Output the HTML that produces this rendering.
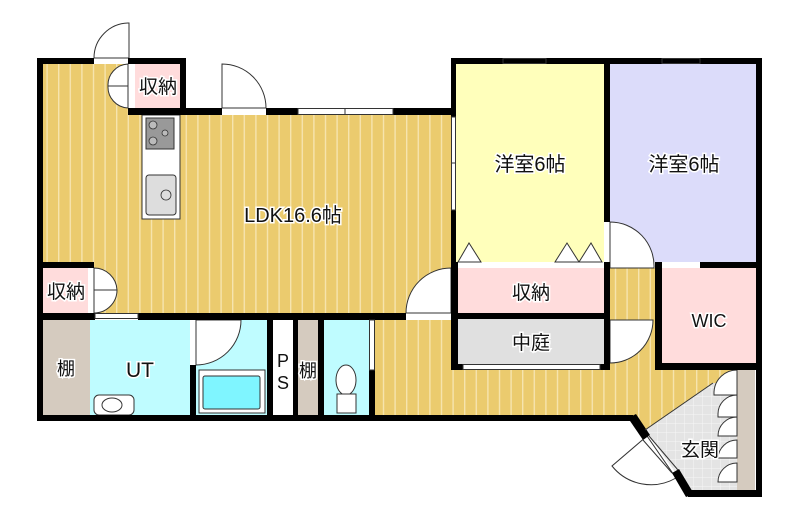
<!DOCTYPE html>
<html><head><meta charset="utf-8"><style>
html,body{margin:0;padding:0;background:#fff}
svg{display:block}
text{font-family:"Liberation Sans","Noto Sans CJK JP",sans-serif;fill:#111;stroke:#fff;stroke-width:3;paint-order:stroke;}
</style></head><body>
<svg width="800" height="523" viewBox="0 0 800 523" xmlns="http://www.w3.org/2000/svg">
<defs>
<pattern id="fl" width="11.6" height="10" patternUnits="userSpaceOnUse">
<rect width="11.6" height="10" fill="#EBCB6E"/>
<rect x="0" width="1.4" height="10" fill="#F6E4AE"/>
</pattern>
<pattern id="tile" width="9" height="9" patternUnits="userSpaceOnUse">
<rect width="9" height="9" fill="#E4E4E4"/>
<path d="M0 0H9M0 0V9" stroke="#F6F6F6" stroke-width="1"/>
</pattern>
</defs>

<path d="M43 64H128V115H451V313H43Z" fill="url(#fl)"/>
<path d="M375 320H458V370H610V268H656V370H755V383L713 383L645 430L633 416H375Z" fill="url(#fl)"/>
<rect x="456" y="64" width="148" height="198" fill="#FFFFBB"/>
<rect x="610" y="64" width="146" height="198" fill="#DCDCFA"/>
<rect x="662" y="268" width="94" height="95" fill="#FFDCDC"/>
<rect x="456" y="262" width="148" height="6" fill="#fff"/>
<rect x="458" y="268" width="146" height="45" fill="#FFDCDC"/>
<rect x="458" y="319" width="147" height="45" fill="#E0E0E0"/>
<rect x="135" y="64" width="45" height="44" fill="#FFDCDC"/>
<rect x="128" y="64" width="7" height="44" fill="#fff"/>
<rect x="43" y="268" width="45" height="45" fill="#FFDCDC"/>
<rect x="88" y="268" width="6" height="45" fill="#fff"/>
<rect x="43" y="320" width="47" height="95" fill="#D5CBBF"/>
<rect x="90" y="320" width="100" height="95" fill="#BFFCFF"/>
<rect x="196" y="320" width="71" height="95" fill="#BFFCFF"/>
<rect x="273" y="320" width="20" height="95" fill="#fff"/>
<rect x="298" y="320" width="20" height="95" fill="#D5CBBF"/>
<rect x="324" y="320" width="45" height="95" fill="#BFFCFF"/>
<path d="M713 383H737V490H688L645 430Z" fill="url(#tile)"/>
<rect x="737" y="370" width="18" height="120" fill="#D5CBBF"/>

<g fill="#fff" stroke="#333" stroke-width="1">
<path d="M129 23V58H94A35 35 0 0 1 129 23Z"/>
<path d="M222 64V108H266A44 44 0 0 0 222 64Z"/>
<path d="M451 268V313H406A45 45 0 0 1 451 268Z"/>
<path d="M610 222V268H654A44 44 0 0 0 610 222Z"/>
<path d="M610 320H653A43 43 0 0 1 610 363Z"/>
<path d="M196 320V365A45 45 0 0 0 241 320Z"/>
<path d="M128 64A21 21 0 0 0 108 86H128Z M128 108A21 21 0 0 1 108 86H128Z"/>
<path d="M94 268A23 23 0 0 1 117 290H94Z M94 313A23 23 0 0 0 117 290H94Z"/>
<path d="M737 370A23 23 0 0 0 714 392V395H737Z"/>
<path d="M737 395A19 19 0 0 0 718 414V417H737Z" />
<path d="M737 417A19 19 0 0 0 718 436H737Z"/>
<path d="M737 440A19 19 0 0 0 718 458H737Z"/>
<path d="M737 463A19 19 0 0 0 718 482H737Z"/>
<path d="M647 436L612 466A50 50 0 0 0 676 478Z"/>
</g>
<g fill="#fff" stroke="#333" stroke-width="1">
<path d="M458 262L469 243L481 262Z"/>
<path d="M555 262L567 243L579 262Z"/>
<path d="M579 262L591 243L602 262Z"/>
</g>

<rect x="142" y="115" width="38" height="104" fill="#fff" stroke="#333" stroke-width="1"/>
<rect x="146" y="118" width="28" height="31" fill="#999" stroke="#333" stroke-width="1"/>
<circle cx="153" cy="125" r="4" fill="#bbb" stroke="#333" stroke-width="0.8"/>
<circle cx="153" cy="141" r="4" fill="#bbb" stroke="#333" stroke-width="0.8"/>
<circle cx="165" cy="133" r="3" fill="#bbb" stroke="#333" stroke-width="0.8"/>
<rect x="146" y="175" width="30" height="40" rx="3" fill="#ddd" stroke="#333" stroke-width="1"/>
<circle cx="166" cy="195" r="5" fill="#ddd" stroke="#333" stroke-width="0.8"/>
<rect x="199" y="370" width="66" height="43" fill="#fff" stroke="#333" stroke-width="1"/>
<rect x="203" y="376" width="57" height="33" rx="2" fill="#7FF5FF" stroke="#333" stroke-width="1"/>
<rect x="94" y="395" width="40" height="20" rx="5" fill="#fff" stroke="#333" stroke-width="1"/>
<ellipse cx="112" cy="405" rx="10" ry="7" fill="#fff" stroke="#333" stroke-width="1"/>
<ellipse cx="346" cy="380" rx="10" ry="15" fill="#fff" stroke="#333" stroke-width="1"/>
<rect x="337" y="394" width="19" height="19" fill="#fff" stroke="#333" stroke-width="1"/>

<g fill="#000">
<rect x="37" y="58" width="6" height="363"/>
<rect x="37" y="58" width="57" height="6"/>
<rect x="128" y="58" width="57" height="6"/>
<rect x="180" y="58" width="6" height="57"/>
<rect x="128" y="108" width="94" height="7"/>
<rect x="266" y="108" width="32" height="7"/>
<rect x="393" y="108" width="63" height="7"/>
<rect x="451" y="58" width="311" height="6"/>
<rect x="451" y="58" width="5" height="59"/>
<rect x="451" y="210" width="5" height="58"/>
<rect x="451" y="262" width="7" height="108"/>
<rect x="756" y="58" width="6" height="439"/>
<rect x="604" y="58" width="6" height="164"/>
<rect x="604" y="262" width="6" height="108"/>
<rect x="458" y="313" width="152" height="6"/>
<rect x="452" y="364" width="11" height="6"/>
<rect x="600" y="364" width="10" height="6"/>
<rect x="700" y="262" width="62" height="6"/>
<rect x="655" y="262" width="7" height="108"/>
<rect x="655" y="363" width="107" height="7"/>
<rect x="37" y="262" width="57" height="6"/>
<rect x="37" y="313" width="58" height="7"/>
<rect x="138" y="313" width="268" height="7"/>
<rect x="37" y="415" width="596" height="6"/>
<rect x="190" y="365" width="6" height="55"/>
<rect x="267" y="320" width="6" height="100"/>
<rect x="293" y="320" width="5" height="100"/>
<rect x="318" y="320" width="6" height="100"/>
<rect x="369" y="370" width="6" height="50"/>
<rect x="688" y="490" width="74" height="7"/>
<path d="M628 418L636 414L650 435L643 440Z"/>
<path d="M672 473L679 469L694 494L686 497Z"/>
</g>
<g stroke="#333" stroke-width="1" fill="none">
<rect x="298" y="108.5" width="95" height="6"/>
<line x1="345" y1="108" x2="345" y2="115"/>
<rect x="451.5" y="117" width="4" height="93"/>
<line x1="451" y1="163" x2="456" y2="163"/>
<rect x="503" y="58.5" width="43" height="5"/>
<rect x="662" y="58.5" width="38" height="5"/>
<rect x="463" y="364.5" width="137" height="5"/>
<rect x="95" y="313.5" width="43" height="5"/>
<rect x="369.5" y="320" width="5" height="50"/>
<line x1="643" y1="440" x2="672" y2="473"/>
<line x1="649" y1="436" x2="678" y2="470"/>
<line x1="645" y1="430" x2="713" y2="383"/>
</g>

<text x="158" y="93" font-size="19" text-anchor="middle">収納</text>
<text x="293" y="222" font-size="20" text-anchor="middle">LDK16.6帖</text>
<text x="66" y="298" font-size="19" text-anchor="middle">収納</text>
<text x="530" y="171" font-size="20" text-anchor="middle">洋室6帖</text>
<text x="684" y="171" font-size="20" text-anchor="middle">洋室6帖</text>
<text x="531" y="299" font-size="19" text-anchor="middle">収納</text>
<text x="531" y="349" font-size="19" text-anchor="middle">中庭</text>
<text x="709" y="327" font-size="18" text-anchor="middle">WIC</text>
<text x="66" y="375" font-size="18" text-anchor="middle">棚</text>
<text x="140" y="377" font-size="21" text-anchor="middle">UT</text>
<text x="283" y="367" font-size="18" text-anchor="middle">P</text>
<text x="283" y="389" font-size="18" text-anchor="middle">S</text>
<text x="308" y="377" font-size="18" text-anchor="middle">棚</text>
<text x="700" y="456" font-size="19" text-anchor="middle">玄関</text>
</svg>
</body></html>
